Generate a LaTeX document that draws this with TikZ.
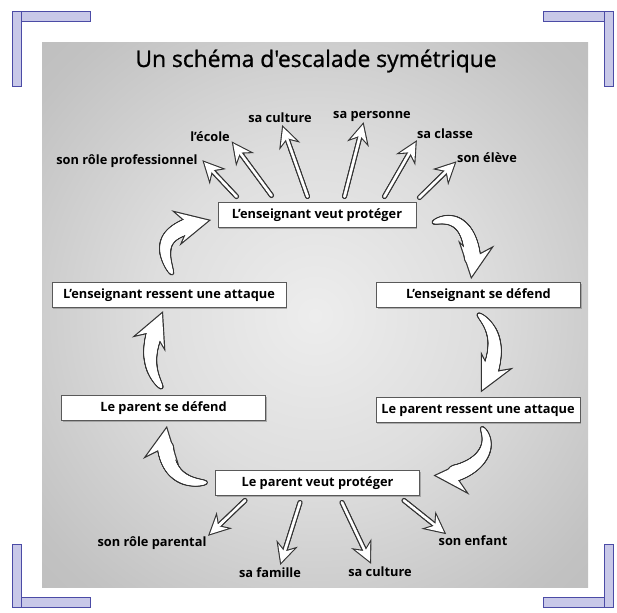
\documentclass[tikz,border=0pt]{standalone}
\usepackage{fontspec}
\setmainfont{Open Sans}
\newfontfamily\titrefont{Open Sans}[FakeBold=0.9]
\usetikzlibrary{calc,decorations.markings,shadows}
\definecolor{contour}{HTML}{333333}
\definecolor{lilas}{HTML}{C8C8E8}
\definecolor{lilasbord}{HTML}{4B4BA6}
\pgfdeclareradialshading{fond}{\pgfpoint{0bp}{0bp}}{%
  color(0bp)=(gray!14); color(15bp)=(gray!26); color(32bp)=(gray!48);
  color(45bp)=(gray!56); color(58bp)=(gray!44); color(72bp)=(gray!28)}
\tikzset{
  etape/.style={draw=black!65, fill=white, line width=0.5pt, minimum width=102pt,
    minimum height=12.5pt, inner sep=2pt, font=\bfseries\fontsize{6.4}{7.6}\selectfont,
    drop shadow={shadow xshift=0.7pt, shadow yshift=-0.7pt, opacity=0.55}},
  mot/.style={inner sep=1pt, font=\bfseries\fontsize{6.4}{7.6}\selectfont},
  coin/.style={draw=lilasbord, fill=lilas, line width=0.5pt},
  % band of growing circles: r0, r1, stop, extra radius, colour
  bande/.style n args={5}{postaction={decorate, decoration={markings,
      mark=between positions 0 and #3 step 0.35pt with {%
        \pgfmathsetmacro\rayon{#1+(#2-#1)*sqrt(\pgfkeysvalueof{/pgf/decoration/mark info/distance from start}/\pgfdecoratedpathlength)+#4}%
        \fill[#5] (0,0) circle (\rayon pt);}}}},
  % arrow head: length, half width, notch, options
  tete/.style n args={4}{postaction={decorate, decoration={markings,
      mark=at position 0.999 with {%
        \path[#4, line join=miter] (0,0) -- (-#1pt,#2pt) -- (-#1pt+#3pt,0pt) -- (-#1pt,-#2pt) -- cycle;}}}},
  courbe/.style={bande={0.3}{4.2}{-9.5pt}{0.6}{contour},
    tete={15}{7.5}{5.5}{fill=contour, draw=contour, line width=1.2pt},
    bande={0.3}{4.2}{-9.5pt}{0}{white}, tete={15}{7.5}{5.5}{fill=white}},
  droite/.style={bande={0.75}{0.75}{-5.5pt}{0.55}{contour},
    tete={8.5}{4.2}{2.8}{fill=contour, draw=contour, line width=1.1pt},
    bande={0.75}{0.75}{-5.5pt}{0}{white}, tete={8.5}{4.2}{2.8}{fill=white}},
}
\begin{document}
\begin{tikzpicture}[x=0.5pt, y=-0.5pt]
  \useasboundingbox (0,0) rectangle (617,613);
  % --- panel and corners ---
  \fill[shading=fond] (42,43) rectangle (588,588);
  \foreach \xa/\ya/\xb/\yb in {12/12/90/22, 543/12/613/22, 12/598/90/608, 543/598/613/608}
    \draw[coin] (\xa,\ya) rectangle (\xb,\yb);
  \foreach \xa/\ya/\xb/\yb in {12/12/21/87, 604/12/613/87, 12/545/21/608, 604/545/613/608}
    \draw[coin] (\xa,\ya) rectangle (\xb,\yb);
  \node[font=\titrefont\fontsize{11.4}{13}\selectfont] (titre) at (316,61) {Un schéma d'escalade symétrique};
  % --- cycle ---
  \node[etape, minimum width=99pt] (ens-protege) at (317,215.5) {L'enseignant veut protéger};
  \node[etape, minimum width=117pt] (ens-attaque) at (169,295.5) {L'enseignant ressent une attaque};
  \node[etape] (ens-defend) at (478.5,295.5) {L'enseignant se défend};
  \node[etape] (par-defend) at (163.5,408.5) {Le parent se défend};
  \node[etape] (par-attaque) at (478,410) {Le parent ressent une attaque};
  \node[etape] (par-protege) at (317.5,483.5) {Le parent veut protéger};
  % --- what each one protects ---
  \node[mot] (l-role) at (127,161) {son rôle professionnel};
  \node[mot] (l-ecole) at (210,137) {l'école};
  \node[mot] (l-culture) at (280,118) {sa culture};
  \node[mot] (l-personne) at (372,116) {sa personne};
  \node[mot] (l-classe) at (445,134) {sa classe};
  \node[mot] (l-eleve) at (487,158) {son élève};
  \node[mot] (p-role) at (152,543) {son rôle parental};
  \node[mot] (p-famille) at (270,573) {sa famille};
  \node[mot] (p-culture) at (380,572) {sa culture};
  \node[mot] (p-enfant) at (473,541) {son enfant};
  % --- straight arrows ---
  \path[droite] ($(ens-protege.north west)+(19,-6)$) -- ($(l-role.east)+(4,1)$);
  \path[droite] ($(ens-protege.north west)+(54,-7)$) -- ($(l-ecole.south east)+(1,-1)$);
  \path[droite] ($(ens-protege.north west)+(90,-6)$) -- ($(l-culture.south)+(3,2)$);
  \path[droite] ($(ens-protege.north west)+(127,-6)$) -- ($(l-personne.south)+(-9,1)$);
  \path[droite] ($(ens-protege.north west)+(167,-6)$) -- ($(l-classe.south west)+(1,1)$);
  \path[droite] ($(ens-protege.north west)+(202,-5)$) -- ($(l-eleve.west)+(0,5)$);
  \path[droite] ($(par-protege.south west)+(30,4)$) -- ($(p-role.north east)+(1,0)$);
  \path[droite] ($(par-protege.south west)+(85,6)$) -- ($(p-famille.north)+(11,-3)$);
  \path[droite] ($(par-protege.south west)+(127,6)$) -- ($(p-culture.north)+(-10,-3)$);
  \path[droite] ($(par-protege.south west)+(189,4)$) -- ($(p-enfant.north west)+(8,-1)$);
  % --- curved arrows of the cycle ---
  \path[courbe] ($(ens-attaque.north)+(3,-9)$) .. controls +(-18,-36) and +(-35,8) .. ($(ens-protege.west)+(-9,5)$);
  \path[courbe] ($(ens-protege.east)+(17,7)$) .. controls +(30,-12) and +(5,-35) .. ($(ens-defend.north)+(-7,-6)$);
  \path[courbe] ($(ens-defend.south)+(0,6)$) .. controls +(24,20) and +(14,-28) .. ($(par-attaque.north)+(4,-7)$);
  \path[courbe] ($(par-attaque.south)+(4,5)$) .. controls +(16,24) and +(33,1) .. ($(par-protege.east)+(16,-8)$);
  \path[courbe] ($(par-protege.west)+(-9,-1)$) .. controls +(-34,2) and +(-5,30) .. ($(par-defend.south)+(3,7)$);
  \path[courbe] ($(par-defend.north)+(-2,-8)$) .. controls +(-18,-24) and +(-12,28) .. ($(ens-attaque.south)+(-7,5)$);
\end{tikzpicture}
\end{document}
